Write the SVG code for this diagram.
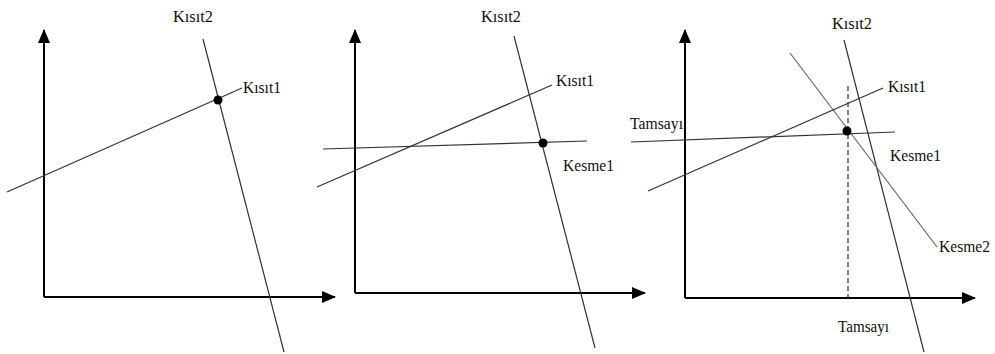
<svg xmlns="http://www.w3.org/2000/svg" width="995" height="354" viewBox="0 0 995 354">
<style>
.axis{stroke:#000;stroke-width:2;fill:none}
.ln{stroke:#333;stroke-width:1.2;fill:none}
.ln2{stroke:#666;stroke-width:1.2;fill:none}
.dash{stroke:#333;stroke-width:1.2;stroke-dasharray:5,3;fill:none}
.lbl{font-family:"Liberation Serif",serif;font-size:17.5px;fill:#111}
.dot{fill:#000}
</style>
<defs>
<marker id="arr" markerWidth="14" markerHeight="12" refX="13" refY="6" orient="auto" markerUnits="userSpaceOnUse">
<path d="M0,0 L14,6 L0,12 Z" fill="#000"/>
</marker>
</defs>
<rect width="995" height="354" fill="#fff"/>
<g id="panel1">
<g id="p1-axes">
<path class="axis" d="M44,297 L44,30" marker-end="url(#arr)"/>
<path class="axis" d="M44,297 L335,297" marker-end="url(#arr)"/>
</g>
<g id="p1-connectors">
<line class="ln" x1="203" y1="39" x2="284" y2="352"/>
<line class="ln" x1="7" y1="192" x2="242" y2="88"/>
</g>
<circle class="dot" cx="218" cy="100" r="4.5"/>
<text class="lbl" x="173" y="22" textLength="40" lengthAdjust="spacingAndGlyphs">Kısıt2</text>
<text class="lbl" x="243" y="93" textLength="38" lengthAdjust="spacingAndGlyphs">Kısıt1</text>
</g>
<g id="panel2">
<g id="p2-axes">
<path class="axis" d="M355,293 L355,30" marker-end="url(#arr)"/>
<path class="axis" d="M355,293 L645,293" marker-end="url(#arr)"/>
</g>
<g id="p2-connectors">
<line class="ln" x1="514" y1="36" x2="595" y2="348"/>
<line class="ln" x1="317" y1="187" x2="552" y2="85"/>
<line class="ln" x1="323" y1="149" x2="587" y2="141"/>
</g>
<circle class="dot" cx="543" cy="143" r="4.5"/>
<text class="lbl" x="481" y="22" textLength="40" lengthAdjust="spacingAndGlyphs">Kısıt2</text>
<text class="lbl" x="556" y="86" textLength="38" lengthAdjust="spacingAndGlyphs">Kısıt1</text>
<text class="lbl" x="563" y="171" textLength="51" lengthAdjust="spacingAndGlyphs">Kesme1</text>
</g>
<g id="panel3">
<g id="p3-axes">
<path class="axis" d="M685,298 L685,30" marker-end="url(#arr)"/>
<path class="axis" d="M685,298 L975,298" marker-end="url(#arr)"/>
</g>
<g id="p3-connectors">
<line class="ln" x1="844" y1="40" x2="924" y2="352"/>
<line class="ln2" x1="790" y1="53" x2="937" y2="247"/>
<line class="ln" x1="648" y1="191" x2="883" y2="88"/>
<line class="ln" x1="631" y1="142" x2="895" y2="132"/>
<line class="dash" x1="848" y1="86" x2="848" y2="298"/>
</g>
<circle class="dot" cx="847" cy="131" r="4.5"/>
<text class="lbl" x="832" y="29" textLength="40" lengthAdjust="spacingAndGlyphs">Kısıt2</text>
<text class="lbl" x="888" y="92" textLength="38" lengthAdjust="spacingAndGlyphs">Kısıt1</text>
<text class="lbl" x="630" y="129" textLength="53" lengthAdjust="spacingAndGlyphs">Tamsayı</text>
<text class="lbl" x="890" y="161" textLength="51" lengthAdjust="spacingAndGlyphs">Kesme1</text>
<text class="lbl" x="939" y="252" textLength="51" lengthAdjust="spacingAndGlyphs">Kesme2</text>
<text class="lbl" x="838" y="332" textLength="51" lengthAdjust="spacingAndGlyphs">Tamsayı</text>
</g>
</svg>
